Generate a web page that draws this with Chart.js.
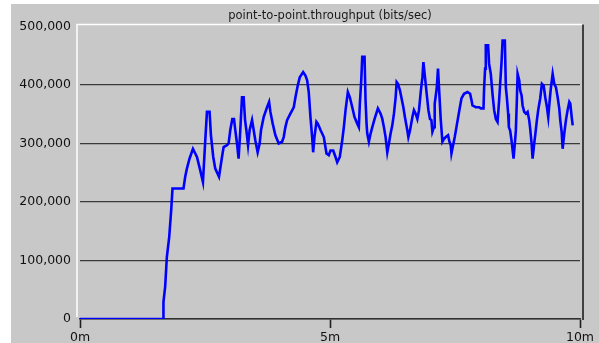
<!DOCTYPE html>
<html>
<head>
<meta charset="utf-8">
<style>
  html, body { margin: 0; padding: 0; background: #ffffff; }
  #wrap { width: 599px; height: 343px; }
</style>
<script src="https://cdn.jsdelivr.net/npm/chart.js@4/dist/chart.umd.min.js"></script>
</head>
<body>
<div id="wrap"><canvas id="c" width="599" height="343"></canvas></div>
<script>
// Simulation time of each sample (minutes)
const timeMin = [
  0.00, 1.665, 1.669, 1.703, 1.737, 1.784, 1.824, 1.850, 2.070, 2.104,
  2.138, 2.190, 2.259, 2.339, 2.405, 2.459, 2.505, 2.539, 2.591, 2.619,
  2.665, 2.705, 2.780, 2.840, 2.872, 2.940, 2.972, 3.006, 3.046, 3.080,
  3.106, 3.140, 3.172, 3.206, 3.240, 3.273, 3.301, 3.327, 3.361, 3.393,
  3.441, 3.473, 3.507, 3.553, 3.593, 3.621, 3.673, 3.741, 3.782, 3.808,
  3.854, 3.908, 3.974, 4.042, 4.074, 4.108, 4.142, 4.208, 4.275, 4.309,
  4.355, 4.395, 4.463, 4.509, 4.543, 4.575, 4.609, 4.643, 4.663, 4.689,
  4.729, 4.756, 4.810, 4.876, 4.930, 4.976, 5.010, 5.064, 5.110, 5.144,
  5.196, 5.244, 5.277, 5.311, 5.357, 5.397, 5.445, 5.491, 5.545, 5.577,
  5.597, 5.625, 5.645, 5.691, 5.711, 5.731, 5.745, 5.778, 5.812, 5.846,
  5.892, 5.958, 6.012, 6.046, 6.078, 6.112, 6.146, 6.178, 6.212, 6.246,
  6.279, 6.313, 6.333, 6.359, 6.399, 6.427, 6.467, 6.499, 6.547, 6.567,
  6.599, 6.647, 6.679, 6.713, 6.747, 6.780, 6.814, 6.848, 6.868, 6.900,
  6.934, 6.968, 7.000, 7.028, 7.048, 7.080, 7.094, 7.134, 7.160, 7.180,
  7.214, 7.248, 7.281, 7.315, 7.361, 7.389, 7.415, 7.429, 7.469, 7.495,
  7.535, 7.581, 7.629, 7.681, 7.749, 7.802, 7.830, 7.850, 7.916, 7.982,
  8.016, 8.070, 8.082, 8.102, 8.116, 8.162, 8.182, 8.216, 8.250, 8.283,
  8.317, 8.351, 8.383, 8.403, 8.431, 8.451, 8.497, 8.517, 8.537, 8.563,
  8.577, 8.603, 8.631, 8.671, 8.697, 8.717, 8.737, 8.752, 8.784, 8.804,
  8.832, 8.852, 8.884, 8.918, 8.952, 8.984, 9.004, 9.032, 9.052, 9.084,
  9.104, 9.138, 9.164, 9.204, 9.238, 9.273, 9.305, 9.339, 9.365, 9.399,
  9.419, 9.453, 9.485, 9.519, 9.553, 9.585, 9.605, 9.633, 9.653, 9.685,
  9.719, 9.752, 9.786, 9.806, 9.834, 9.854
];

// point-to-point throughput (bits/sec)
const throughput = [
  0, 0, 29000, 55000, 106000, 140000, 186000, 223000, 223000, 243000,
  257000, 274000, 291000, 277000, 254000, 234000, 305000, 354000, 354000, 314000,
  277000, 257000, 243000, 277000, 294000, 297000, 300000, 323000, 342000, 342000,
  323000, 300000, 274000, 323000, 379000, 379000, 340000, 323000, 297000, 323000,
  340000, 323000, 305000, 285000, 300000, 323000, 345000, 362000, 371000, 354000,
  334000, 314000, 300000, 303000, 311000, 328000, 340000, 351000, 362000, 379000,
  399000, 413000, 422000, 416000, 408000, 388000, 345000, 311000, 285000, 311000,
  337000, 334000, 323000, 311000, 283000, 280000, 288000, 288000, 277000, 268000,
  277000, 305000, 328000, 357000, 388000, 379000, 362000, 345000, 334000, 328000,
  368000, 408000, 448000, 448000, 374000, 334000, 317000, 303000, 317000, 328000,
  342000, 360000, 351000, 342000, 328000, 311000, 285000, 300000, 317000, 331000,
  351000, 379000, 405000, 402000, 391000, 379000, 362000, 345000, 322000, 311000,
  322000, 345000, 357000, 351000, 342000, 357000, 388000, 413000, 439000, 413000,
  385000, 357000, 342000, 340000, 320000, 328000, 368000, 394000, 428000, 396000,
  342000, 303000, 308000, 311000, 314000, 303000, 297000, 283000, 300000, 311000,
  331000, 354000, 377000, 385000, 388000, 385000, 374000, 365000, 362000, 362000,
  360000, 360000, 394000, 428000, 468000, 468000, 436000, 419000, 385000, 357000,
  342000, 337000, 374000, 402000, 439000, 476000, 476000, 396000, 379000, 351000,
  328000, 322000, 305000, 274000, 300000, 322000, 374000, 419000, 408000, 391000,
  382000, 365000, 354000, 351000, 354000, 340000, 325000, 300000, 274000, 300000,
  314000, 340000, 357000, 377000, 402000, 399000, 379000, 362000, 345000, 379000,
  396000, 419000, 402000, 396000, 379000, 360000, 340000, 320000, 291000, 317000,
  340000, 357000, 371000, 368000, 345000, 331000
];

// Axis settings
const yTicks = [0, 100000, 200000, 300000, 400000, 500000];
const xTicks = [0, 5, 10];
const titleText = 'point-to-point.throughput (bits/sec)';

const points = timeMin.map((t, i) => ({ x: t, y: throughput[i] }));

// Panel background and the bevelled frame around the plot
const framePlugin = {
  id: 'frame',
  beforeDraw(chart) {
    const ctx = chart.ctx;
    const a = chart.chartArea;
    ctx.save();
    ctx.fillStyle = '#ffffff';
    ctx.fillRect(0, 0, chart.width, chart.height);
    ctx.fillStyle = '#c8c8c8';
    ctx.fillRect(11, 4, chart.width - 11, chart.height - 4);
    // light top/left edge
    ctx.strokeStyle = '#ffffff';
    ctx.lineWidth = 1.5;
    ctx.beginPath();
    ctx.moveTo(a.left - 3, a.bottom - 2);
    ctx.lineTo(a.left - 3, a.top - 2);
    ctx.lineTo(a.right + 3, a.top - 2);
    ctx.stroke();
    // dark right edge
    ctx.strokeStyle = '#404040';
    ctx.lineWidth = 2;
    ctx.beginPath();
    ctx.moveTo(a.right + 3, a.top - 2);
    ctx.lineTo(a.right + 3, a.bottom + 1);
    ctx.stroke();
    ctx.restore();
  }
};

new Chart(document.getElementById('c'), {
  type: 'line',
  data: {
    datasets: [{
      data: points,
      borderColor: '#0000ff',
      borderWidth: 2.6,
      pointRadius: 0,
      tension: 0,
      fill: false
    }]
  },
  options: {
    responsive: false,
    animation: false,
    devicePixelRatio: 1,
    layout: { padding: { left: 0, right: 19, top: 0, bottom: 0 } },
    plugins: {
      legend: { display: false },
      tooltip: { enabled: false },
      title: {
        display: true,
        text: titleText,
        fullSize: false,
        color: '#1a1a1a',
        font: { family: 'DejaVu Sans', size: 11.5, weight: 'normal' },
        padding: { top: 9, bottom: 3.7 }
      }
    },
    scales: {
      x: {
        type: 'linear',
        min: xTicks[0],
        max: xTicks[xTicks.length - 1],
        afterFit(scale) { scale.height = 24; },
        afterBuildTicks(scale) { scale.ticks = xTicks.map(v => ({ value: v })); },
        grid: {
          drawOnChartArea: false,
          drawTicks: true,
          tickLength: 9,
          tickWidth: 1.6,
          tickColor: '#202020'
        },
        border: { display: true, color: '#303030', width: 1.6 },
        ticks: {
          padding: 2,
          color: '#111111',
          font: { family: 'DejaVu Sans', size: 12.5 },
          maxRotation: 0,
          callback: v => v + 'm'
        }
      },
      y: {
        type: 'linear',
        min: yTicks[0],
        max: yTicks[yTicks.length - 1],
        afterFit(scale) { scale.width = 80; },
        afterBuildTicks(scale) { scale.ticks = yTicks.map(v => ({ value: v })); },
        grid: {
          drawTicks: false,
          color: ctx => (ctx.tick && ctx.tick.value === yTicks[yTicks.length - 1]) ? 'rgba(0,0,0,0)' : '#3a3a3a',
          lineWidth: 1.3
        },
        border: { display: false },
        ticks: {
          padding: 9,
          color: '#111111',
          font: { family: 'DejaVu Sans', size: 12.5 },
          callback: v => v.toLocaleString('en-US')
        }
      }
    }
  },
  plugins: [framePlugin]
});
</script>
</body>
</html>
